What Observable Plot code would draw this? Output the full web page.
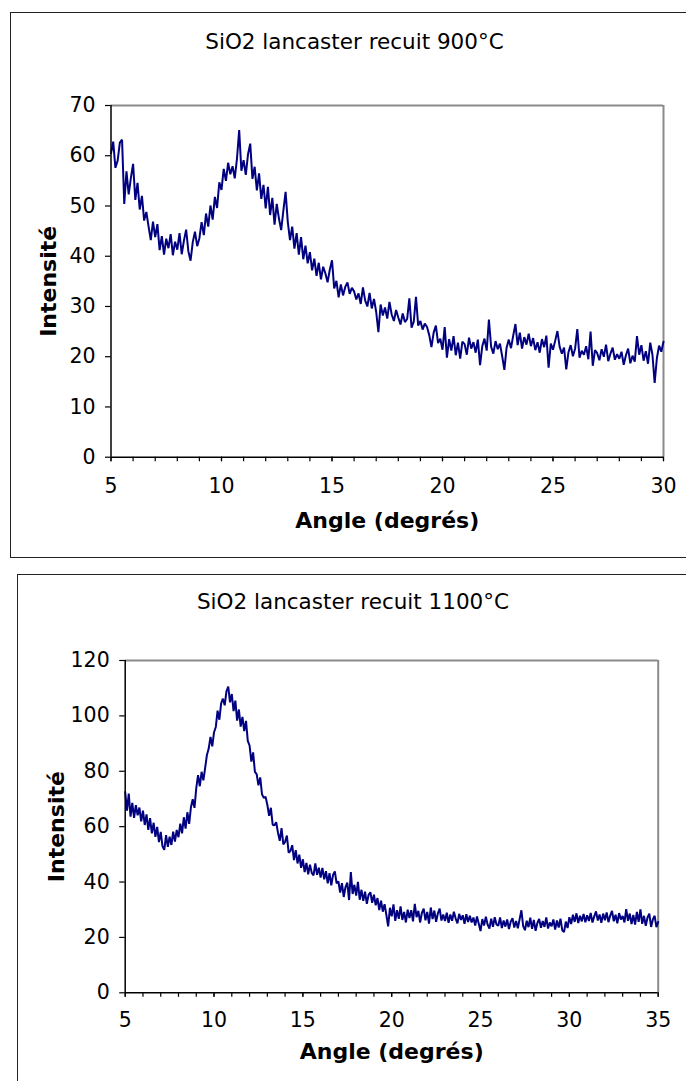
<!DOCTYPE html>
<html>
<head>
<meta charset="utf-8">
<script src="https://cdn.jsdelivr.net/npm/d3@7"></script>
<script src="https://cdn.jsdelivr.net/npm/@observablehq/plot@0.6"></script>
<style>
  html, body { margin: 0; padding: 0; background: #fff; }
  body { width: 686px; height: 1081px; position: relative; overflow: hidden; font-family: "DejaVu Sans", Verdana, sans-serif; }
  .box { position: absolute; border: 1.5px solid #222; box-sizing: border-box; background: transparent; pointer-events: none; }
  .title { position: absolute; left: 0; text-align: center; font-size: 21.5px; line-height: 24px; color: #000; white-space: nowrap; }
  .chart { position: absolute; left: 0; }
  .chart svg { background: transparent !important; }
  g[aria-label="x-axis label"] text, g[aria-label="y-axis label"] text { font-weight: bold; font-size: 22px; }
</style>
</head>
<body>
<div id="c1" class="chart" style="top:0px"></div>
<div id="c2" class="chart" style="top:570px"></div>
<div class="box" style="left:10px;top:12px;width:700px;height:546px"></div>
<div class="box" style="left:17px;top:573.5px;width:700px;height:600px"></div>
<div class="title" id="t1" style="top:30px;width:709px"></div>
<div class="title" id="t2" style="top:590px;width:706px"></div>
<script>
// ---- Data ----
const title1 = "SiO2 lancaster recuit 900°C";
const title2 = "SiO2 lancaster recuit 1100°C";
const xLabel = "Angle (degrés)";
const yLabel = "Intensité";

const angleStart = 5, angleStep = 0.1;

// Intensité, recuit 900°C : 5.0° → 30.0°, pas de 0.1°
const intens900 = [
  60.5, 62.8, 57.6, 59.0, 62.6, 63.2, 50.4, 56.9, 52.3, 55.6,
  58.4, 51.2, 54.6, 49.3, 52.0, 47.1, 48.8, 45.9, 43.2, 46.9,
  43.8, 46.4, 41.2, 44.0, 40.3, 43.5, 41.6, 44.4, 40.2, 42.9,
  41.3, 44.6, 40.4, 43.1, 45.3, 41.0, 39.1, 42.8, 44.9, 42.0,
  43.6, 46.8, 44.2, 48.5, 45.9, 50.1, 47.3, 51.8, 49.6, 54.7,
  53.2, 57.4, 55.0, 58.6, 56.3, 57.9, 55.5, 59.4, 65.1, 57.0,
  59.1, 56.2, 60.3, 62.4, 55.4, 57.8, 53.1, 56.5, 51.4, 54.2,
  49.5, 53.8, 48.2, 51.6, 46.3, 50.4, 47.5, 45.2, 49.1, 52.8,
  46.8, 43.2, 45.9, 41.5, 44.6, 40.3, 43.8, 39.4, 42.1, 38.6,
  40.8, 37.2, 39.5, 36.1, 38.7, 35.4, 37.9, 36.6, 34.8, 37.3,
  39.2, 33.6, 35.1, 31.8, 34.4, 32.2, 33.9, 34.8, 32.5, 33.7,
  33.0, 31.4, 32.6, 30.5, 33.8, 31.2, 30.0, 32.7, 29.6, 31.5,
  28.9, 24.9, 30.4, 28.2, 29.8, 27.6, 30.9, 28.4, 27.1, 29.3,
  27.8, 26.4, 28.6, 26.9, 27.5, 31.6, 25.8, 27.0, 31.9, 26.2,
  27.1, 25.4, 26.6, 25.9, 24.3, 21.9, 24.8, 26.2, 22.7, 23.6,
  21.4, 25.9, 19.8, 23.5, 21.2, 24.1, 20.3, 22.8, 19.6, 23.0,
  22.5, 20.4, 23.8, 21.6, 22.9, 20.8, 23.4, 18.3, 22.1, 23.6,
  21.2, 27.4, 22.0, 20.6, 23.1, 21.5, 22.6, 20.1, 17.4, 21.8,
  23.4, 21.7, 24.2, 26.5, 22.3, 24.8, 21.6, 23.9, 22.4, 24.6,
  22.1, 23.7, 21.3, 22.9, 20.8, 23.5, 21.9, 24.2, 17.8, 22.6,
  21.4, 23.2, 25.1, 22.0, 20.6, 21.8, 17.5, 20.9, 22.3, 20.1,
  21.6, 25.5, 19.8, 21.2, 20.4, 22.1, 19.5, 25.0, 18.2, 21.3,
  20.7, 19.3, 21.5, 20.0, 22.4, 19.1, 20.6, 21.8, 19.4, 20.5,
  19.6, 21.0, 18.4, 20.3, 21.6, 18.7, 20.2, 19.0, 24.1, 20.4,
  22.3, 19.2, 21.1, 18.6, 22.8, 20.4, 14.8, 19.7, 22.2, 21.0,
  23.0
];

// Intensité, recuit 1100°C : 5.0° → 35.0°, pas de 0.1°
const intens1100 = [
  72.5, 65.8, 71.9, 63.6, 68.6, 63.2, 67.8, 64.1, 66.9, 61.9,
  65.8, 60.6, 64.4, 58.8, 63.1, 57.6, 61.4, 56.3, 59.9, 54.4,
  58.1, 52.9, 51.6, 56.9, 52.7, 56.4, 53.4, 58.2, 54.6, 58.8,
  56.2, 61.1, 57.6, 63.4, 59.3, 65.2, 61.0, 67.0, 69.9, 66.8,
  73.9, 78.6, 74.6, 79.8, 76.7, 81.2, 85.9, 88.2, 92.4, 89.0,
  94.1, 96.0, 101.9, 98.6, 104.5, 106.2, 103.8, 108.9, 110.6, 104.9,
  107.9, 101.7, 105.5, 98.3, 102.3, 96.1, 99.6, 94.5, 98.2, 91.0,
  89.3, 83.5, 86.8, 79.8, 79.0, 74.9, 77.8, 71.7, 70.4, 70.8,
  67.9, 63.9, 66.8, 60.7, 60.5, 61.6, 57.8, 54.9, 59.5, 53.6,
  54.5, 56.8, 50.6, 51.2, 53.3, 47.9, 51.5, 46.7, 49.9, 45.1,
  48.2, 43.6, 46.9, 42.8, 46.3, 43.3, 42.4, 46.7, 42.6, 45.2,
  41.6, 45.1, 41.0, 43.9, 39.5, 43.2, 38.8, 42.6, 43.8, 39.5,
  40.2, 36.2, 39.6, 34.6, 38.2, 39.8, 33.5, 43.6, 35.7, 39.0,
  35.1, 40.1, 33.6, 37.2, 33.2, 36.5, 32.1, 35.4, 36.3, 32.5,
  35.4, 31.6, 34.2, 29.9, 33.3, 29.3, 32.0, 28.1, 24.0, 30.7,
  27.6, 31.9, 26.0, 29.8, 26.7, 31.2, 26.3, 29.2, 25.4, 30.0,
  27.0, 29.8, 25.8, 32.1, 27.3, 29.6, 25.4, 28.9, 30.4, 26.2,
  29.2, 25.0, 30.8, 26.6, 29.7, 25.6, 28.7, 30.4, 26.1, 28.3,
  25.9, 28.9, 25.3, 28.3, 26.0, 29.3, 26.8, 25.1, 28.5, 26.3,
  28.0, 24.9, 28.4, 25.6, 27.8, 25.4, 27.2, 24.3, 27.6, 24.9,
  22.3, 26.6, 24.3, 27.5, 24.6, 23.2, 26.8, 23.8, 27.3, 24.7,
  24.2, 27.2, 23.4, 26.1, 23.9, 26.5, 23.0, 25.7, 26.9, 23.6,
  25.9, 23.3, 26.6, 29.8, 24.1, 22.6, 26.0, 23.7, 27.1, 23.1,
  26.3, 22.4, 25.2, 26.7, 23.5, 25.9, 23.8, 27.2, 23.2, 25.4,
  24.0, 26.5, 22.8, 26.1, 23.6, 26.8, 22.6, 21.9, 25.7, 23.4,
  27.3, 24.8, 28.2, 25.6, 28.7, 25.2, 27.8, 25.8, 28.5, 25.5,
  28.0, 25.9, 28.8, 25.4, 27.6, 29.4, 26.1, 28.3, 25.3, 28.6,
  26.2, 29.0, 25.5, 27.9, 29.6, 25.8, 28.2, 25.1, 28.8, 26.5,
  27.7, 25.4, 30.2, 26.0, 28.6, 24.8, 28.1, 24.6, 29.2, 25.6,
  30.1, 24.9, 27.8, 24.2, 27.2, 28.6, 23.8, 26.5, 27.8, 23.7,
  25.6
];

const xTicks1 = [5, 10, 15, 20, 25, 30];
const yTicks1 = [0, 10, 20, 30, 40, 50, 60, 70];
const xTicks2 = [5, 10, 15, 20, 25, 30, 35];
const yTicks2 = [0, 20, 40, 60, 80, 100, 120];

const lineColor = "#000080";

function toRows(values) {
  return values.map((v, i) => ({angle: +(angleStart + i * angleStep).toFixed(2), value: v}));
}

function makeChart({values, xDomain, yDomain, xTicks, yTicks, height, margins, xPad, yLabelOffset, xLabelOffset}) {
  const minor = d3.range(xDomain[0], xDomain[1] + 1);
  return Plot.plot({
    width: 686,
    height,
    marginLeft: margins[3], marginRight: margins[1], marginTop: margins[0], marginBottom: margins[2],
    style: {fontFamily: "DejaVu Sans, Verdana, sans-serif", fontSize: "20.5px", color: "#000", background: "transparent", overflow: "visible"},
    x: {domain: xDomain},
    y: {domain: yDomain},
    marks: [
      Plot.ruleY([yDomain[1]], {stroke: "#8a8a8a", strokeWidth: 2}),
      Plot.ruleX([xDomain[1]], {stroke: "#8a8a8a", strokeWidth: 2}),
      Plot.line(toRows(values), {x: "angle", y: "value", stroke: lineColor, strokeWidth: 2, strokeLinejoin: "miter"}),
      Plot.ruleX([xDomain[0]], {stroke: "#000", strokeWidth: 1.5}),
      Plot.ruleY([yDomain[0]], {stroke: "#000", strokeWidth: 1.5}),
      Plot.axisX(minor, {tickSize: 4.5, tickFormat: () => "", label: null, strokeWidth: 1.2}),
      Plot.axisX(xTicks, {tickSize: 4.5, tickPadding: xPad, label: xLabel, labelAnchor: "center", labelArrow: "none", labelOffset: xLabelOffset, strokeWidth: 1.2}),
      Plot.axisY(yTicks, {tickSize: 5.5, tickPadding: 10, label: yLabel, labelAnchor: "center", labelArrow: "none", labelOffset: yLabelOffset, strokeWidth: 1.2})
    ]
  });
}

document.getElementById("t1").textContent = title1;
document.getElementById("t2").textContent = title2;

document.getElementById("c1").append(makeChart({
  values: intens900, xDomain: [5, 30], yDomain: [0, 70], xTicks: xTicks1, yTicks: yTicks1,
  height: 560, margins: [105, 23, 103.3, 110.5], xPad: 17, yLabelOffset: 71, xLabelOffset: 70.5
}));
document.getElementById("c2").append(makeChart({
  values: intens1100, xDomain: [5, 35], yDomain: [0, 120], xTicks: xTicks2, yTicks: yTicks2,
  height: 511, margins: [90, 28.3, 88.7, 124.7], xPad: 15.5, yLabelOffset: 77, xLabelOffset: 66
}));
</script>
</body>
</html>
